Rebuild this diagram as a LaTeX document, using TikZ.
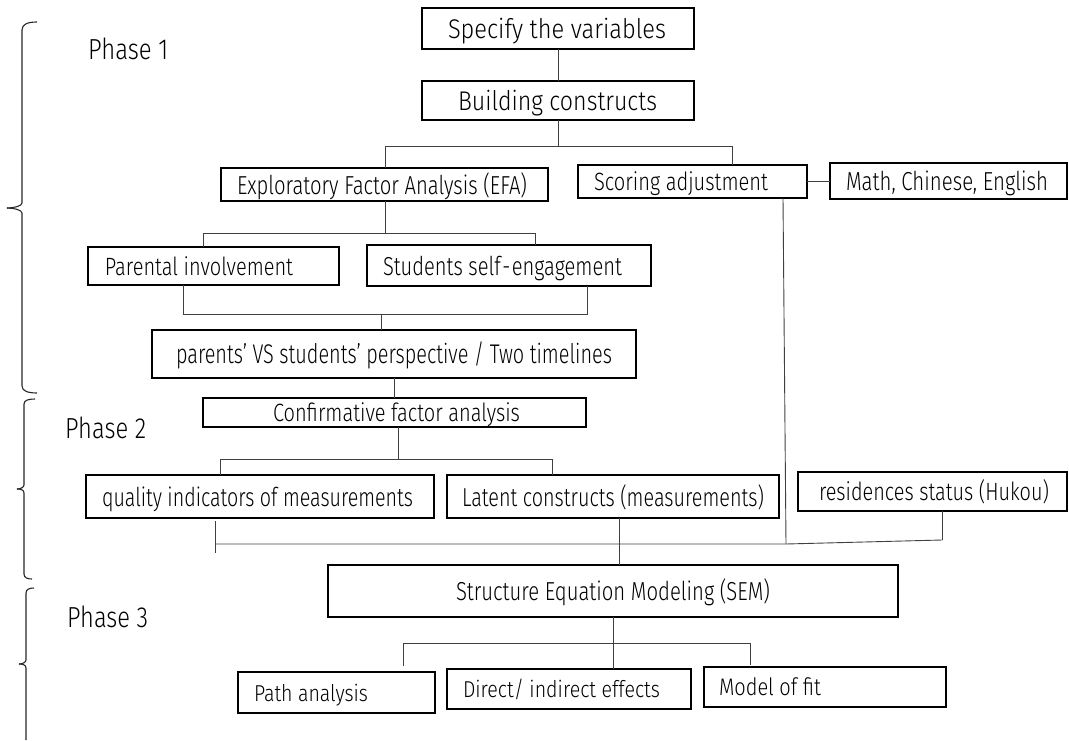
\documentclass[tikz,border=0pt]{standalone}
\usepackage{fontspec}
\setmainfont{Fira Sans}[UprightFont=* Light]
\usepackage{graphicx}
\tikzset{
  bx/.style={draw=black, line width=1.8pt, rectangle, inner sep=0pt, outer sep=0pt},
  conn/.style={draw=black!75, line width=0.9pt},
  brace/.style={draw=black!85, line width=1.1pt},
  phase/.style={inner sep=0pt, anchor=west}
}
% name, x1, y1, x2, y2, text-left x, font size, text width, text
\newcommand\bnode[9]{%
  \node[bx, minimum width={#4-#2}, minimum height={#5-#3}] (#1) at ({(#2+#4)/2},{(#3+#5)/2})
  {\hbox to \dimexpr#4pt-#2pt\relax{\hskip\dimexpr#6pt-#2pt\relax\fontsize{#7}{#7}\selectfont
   \raisebox{-0.17em}[0.7em][0.3em]{\resizebox{#8pt}{\height}{#9}}\hss}};}
\begin{document}
\begin{tikzpicture}[x=1pt,y=-1pt]
\useasboundingbox (0,0) rectangle (1069,740);
% boxes
\bnode{spec}{422}{8}{694}{49}{448}{27}{218}{Specify the variables}
\bnode{build}{422}{81}{694}{120}{458}{27}{199}{Building constructs}
\bnode{efa}{221}{168}{548}{201}{237}{26}{290}{Exploratory Factor Analysis (EFA)}
\bnode{score}{578}{165}{807}{198}{594}{25}{174}{Scoring adjustment}
\bnode{math}{830}{163}{1067}{199}{846}{26}{202}{Math, Chinese, English}
\bnode{parent}{88}{247}{339}{285}{105}{25}{188}{Parental involvement}
\bnode{stud}{367}{245}{651}{286}{383}{26}{239}{Students self\kern2pt-\kern2pt engagement}
\bnode{pvs}{152}{330}{636}{378}{176}{27}{436}{parents' VS students' perspective / Two timelines}
\bnode{cfa}{203}{398}{586}{427}{273}{25}{247}{Confirmative factor analysis}
\bnode{qual}{86}{475}{434}{518}{102}{26}{311}{quality indicators of measurements}
\bnode{latent}{447}{475}{779}{518}{462}{26}{302}{Latent constructs (measurements)}
\bnode{res}{798}{472}{1067}{511}{819}{25}{230}{residences status (Hukou)}
\bnode{sem}{328}{565}{898}{617}{456}{26}{314}{Structure Equation Modeling (SEM)}
\bnode{path}{238}{672}{435}{713}{254}{23}{114}{Path analysis}
\bnode{direct}{447}{669}{691}{709}{463}{23}{197}{Direct/ indirect effects}
\bnode{model}{704}{667}{946}{707}{719}{24}{102}{Model of fit}
% phase labels
\node[phase] (ph1) at (88,49) {\fontsize{29}{29}\selectfont\resizebox{80pt}{\height}{Phase 1}};
\node[phase] (ph2) at (65,428) {\fontsize{29}{29}\selectfont\resizebox{81pt}{\height}{Phase 2}};
\node[phase] (ph3) at (67,617) {\fontsize{29}{29}\selectfont\resizebox{81pt}{\height}{Phase 3}};
% junction coordinates
\coordinate (j1) at (558,146);
\coordinate (j1l) at (385,146);
\coordinate (j1r) at (732,146);
\coordinate (j2) at (385,233);
\coordinate (j2l) at (203,233);
\coordinate (j2r) at (535,233);
\coordinate (j3l) at (183,314);
\coordinate (j3r) at (587,314);
\coordinate (j3) at (381,314);
\coordinate (j4) at (398,459);
\coordinate (j4l) at (220,459);
\coordinate (j4r) at (552,459);
\coordinate (j5a) at (215,521);
\coordinate (j5b) at (215,553);
\coordinate (j5l) at (215,544);
\coordinate (j5c) at (619,544);
\coordinate (j5s) at (786,544);
\coordinate (j5r) at (942,540);
\coordinate (j6) at (613,643);
\coordinate (j6l) at (403,643);
\coordinate (j6r) at (750,643);
\coordinate (j6le) at (403,666);
\coordinate (j6re) at (750,665);
% connectors
\draw[conn] (spec.south) -- (build.north);
\draw[conn] (build.south) -- (j1);
\draw[conn] (j1l) -- (j1r);
\draw[conn] (j1l) -- (j1l |- efa.north);
\draw[conn] (j1r) -- (j1r |- score.north);
\draw[conn] (score.east) -- (math.west |- score.east);
\draw[conn] (efa.south -| j2) -- (j2);
\draw[conn] (j2l) -- (j2r);
\draw[conn] (j2l) -- (j2l |- parent.north);
\draw[conn] (j2r) -- (j2r |- stud.north);
\draw[conn] (j3l |- parent.south) -- (j3l) -- (j3r) -- (j3r |- stud.south);
\draw[conn] (j3) -- (j3 |- pvs.north);
\draw[conn] (394,378) -- (394,398);
\draw[conn] (cfa.south -| j4) -- (j4);
\draw[conn] (j4l) -- (j4r);
\draw[conn] (j4l) -- (j4l |- qual.north);
\draw[conn] (j4r) -- (j4r |- latent.north);
\draw[conn] (j5a) -- (j5b);
\draw[conn] (j5l) -- (j5s) -- (j5r);
\draw[conn] (j5r) -- (j5r |- res.south);
\draw[conn] (783,198) -- (j5s);
\draw[conn] (j5c |- latent.south) -- (j5c |- sem.north);
\draw[conn] (j6 |- sem.south) -- (j6 |- direct.north);
\draw[conn] (j6l) -- (j6r);
\draw[conn] (j6l) -- (j6le);
\draw[conn] (j6r) -- (j6re);
% braces
\draw[brace] (37,22) .. controls (28,22) and (22,24) .. (22,30) -- (22,203)
  .. controls (22,206) and (14,208) .. (7,208);
\draw[brace] (7,208) .. controls (14,208) and (22,210) .. (22,213) -- (22,386)
  .. controls (22,391) and (28,393) .. (37,393);
\draw[brace] (35,399) .. controls (29,399) and (24,400) .. (24,404) -- (24,485)
  .. controls (24,487) and (21,489) .. (17,489);
\draw[brace] (17,489) .. controls (21,489) and (24,490) .. (24,493) -- (24,574)
  .. controls (24,578) and (28,579) .. (32,579);
\draw[brace] (34,588) .. controls (30,588) and (26,589) .. (26,593) -- (26,660)
  .. controls (26,662) and (23,664) .. (19,664);
\draw[brace] (19,664) .. controls (23,664) and (26,665) .. (26,668) -- (26,740);
\end{tikzpicture}
\end{document}
